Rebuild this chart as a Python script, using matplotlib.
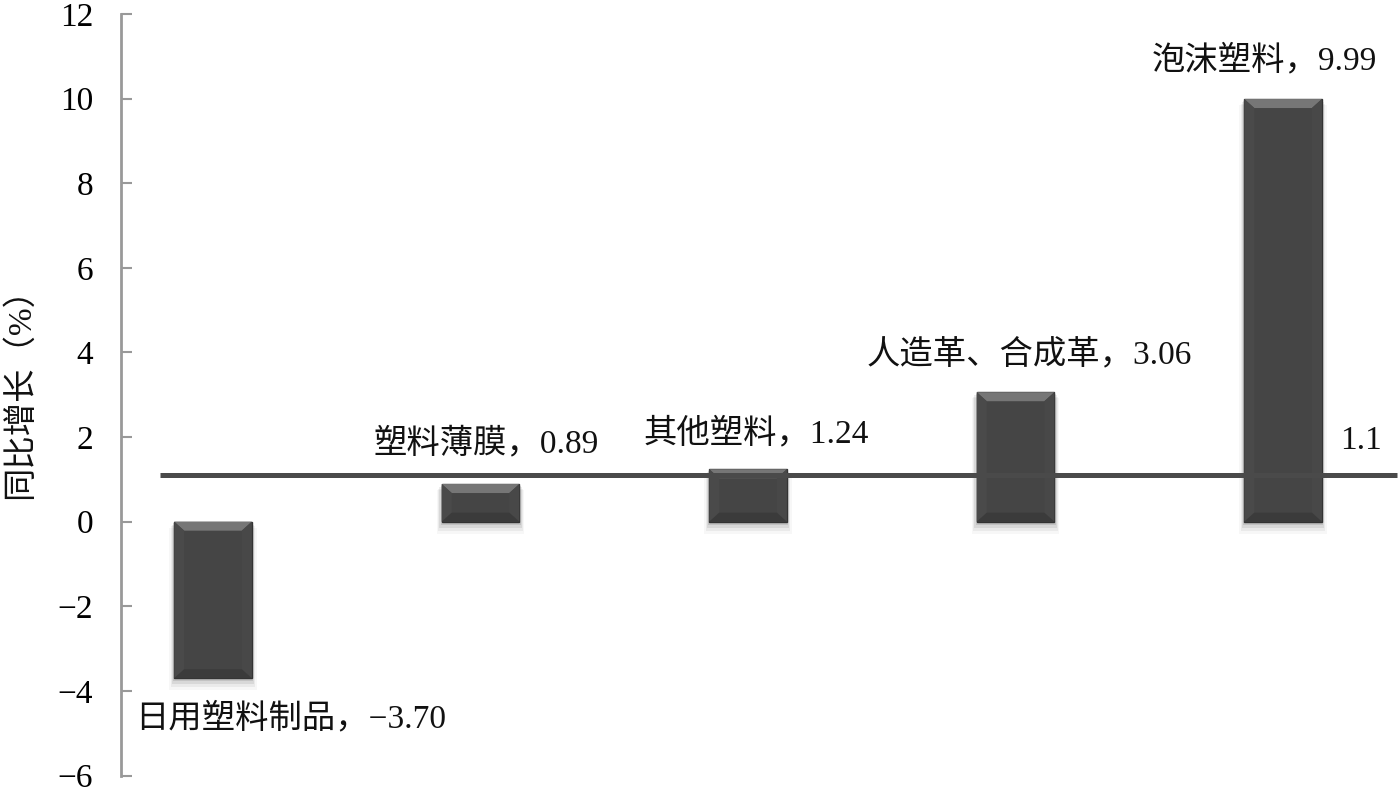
import matplotlib
matplotlib.use('Agg')
import matplotlib.pyplot as plt
from matplotlib.patches import Polygon, Rectangle

plt.rcParams['font.family'] = ['Liberation Serif', 'Noto Sans CJK SC', 'DejaVu Sans']
plt.rcParams['axes.unicode_minus'] = True

# data
categories = ['日用塑料制品', '塑料薄膜', '其他塑料', '人造革、合成革', '泡沫塑料']
values = [-3.70, 0.89, 1.24, 3.06, 9.99]
average = 1.1
label_pos = [(0.29, -4.64), (1.02, 1.85), (2.03, 2.08), (3.05, 3.94), (3.93, 10.89)]

W = 0.29          # bar width (category units)
PX_X = 1 / 267.5  # one pixel in x data units
PX_Y = 1 / 42.3   # one pixel in y data units
FS = 24

fig = plt.figure(figsize=(14, 7.95), dpi=100)
ax = fig.add_axes([0.0864, 0.0245, 0.9136, 0.9579])
ax.set_xlim(-0.344, 4.437)
ax.set_ylim(-6, 12)


def bevel_bar(x, v):
    x0, x1 = x - W / 2, x + W / 2
    lo, hi = min(0, v), max(0, v)
    # soft shadow below
    for k, a in enumerate([0.10, 0.07, 0.05, 0.03]):
        d = (k + 1) * 3
        ax.add_patch(Rectangle((x0 - d * PX_X * 0.4, lo - d * PX_Y), W + d * PX_X * 0.8,
                               hi - lo + d * PX_Y * 0.5, facecolor='black', alpha=a,
                               edgecolor='none', zorder=1))
    ax.add_patch(Rectangle((x0, lo), W, hi - lo, facecolor='#454545',
                           edgecolor='#333333', linewidth=1.0, zorder=2))
    bx, by = 10 * PX_X, 9 * PX_Y
    by = min(by, (hi - lo) / 3)
    # top bevel
    ax.add_patch(Polygon([(x0, hi), (x1, hi), (x1 - bx, hi - by), (x0 + bx, hi - by)],
                         closed=True, facecolor='#767676', edgecolor='none', zorder=3))
    # side bevels
    ax.add_patch(Polygon([(x0, hi), (x0 + bx, hi - by), (x0 + bx, lo + by), (x0, lo)],
                         closed=True, facecolor='#4a4a4a', edgecolor='none', zorder=3))
    ax.add_patch(Polygon([(x1, hi), (x1 - bx, hi - by), (x1 - bx, lo + by), (x1, lo)],
                         closed=True, facecolor='#484848', edgecolor='none', zorder=3))
    # bottom bevel
    ax.add_patch(Polygon([(x0, lo), (x1, lo), (x1 - bx, lo + by), (x0 + bx, lo + by)],
                         closed=True, facecolor='#3b3b3b', edgecolor='none', zorder=3))


for i, v in enumerate(values):
    bevel_bar(i, v)

ax.plot([-0.198, 4.426], [average, average], color='#4a4a4a', linewidth=3.6,
        solid_capstyle='butt', zorder=4)

for (cat, v, (lx, ly)) in zip(categories, values, label_pos):
    ax.text(lx, ly, f'{cat}，{v:.2f}'.replace('-', '−'), ha='center', va='center',
            fontsize=FS, color='#111111', zorder=5)
ax.text(4.29, 1.92, f'{average}', ha='center', va='center', fontsize=FS,
        color='#111111', zorder=5)

ax.set_yticks(range(-6, 13, 2))
ax.set_yticklabels([str(t).replace('-', '−') for t in range(-6, 13, 2)])
ax.tick_params(axis='y', direction='in', length=8, width=1.5, color='#999999',
               labelsize=FS, pad=20)
ax.set_xticks([])
for s in ['top', 'right', 'bottom']:
    ax.spines[s].set_visible(False)
ax.spines['left'].set_color('#999999')
ax.spines['left'].set_linewidth(2)

fig.text(0.014, 0.516, '同比增长（%）', rotation=90, ha='center', va='center',
         fontsize=FS, color='#111111')

fig.savefig('out.png', dpi=100, facecolor='white')
